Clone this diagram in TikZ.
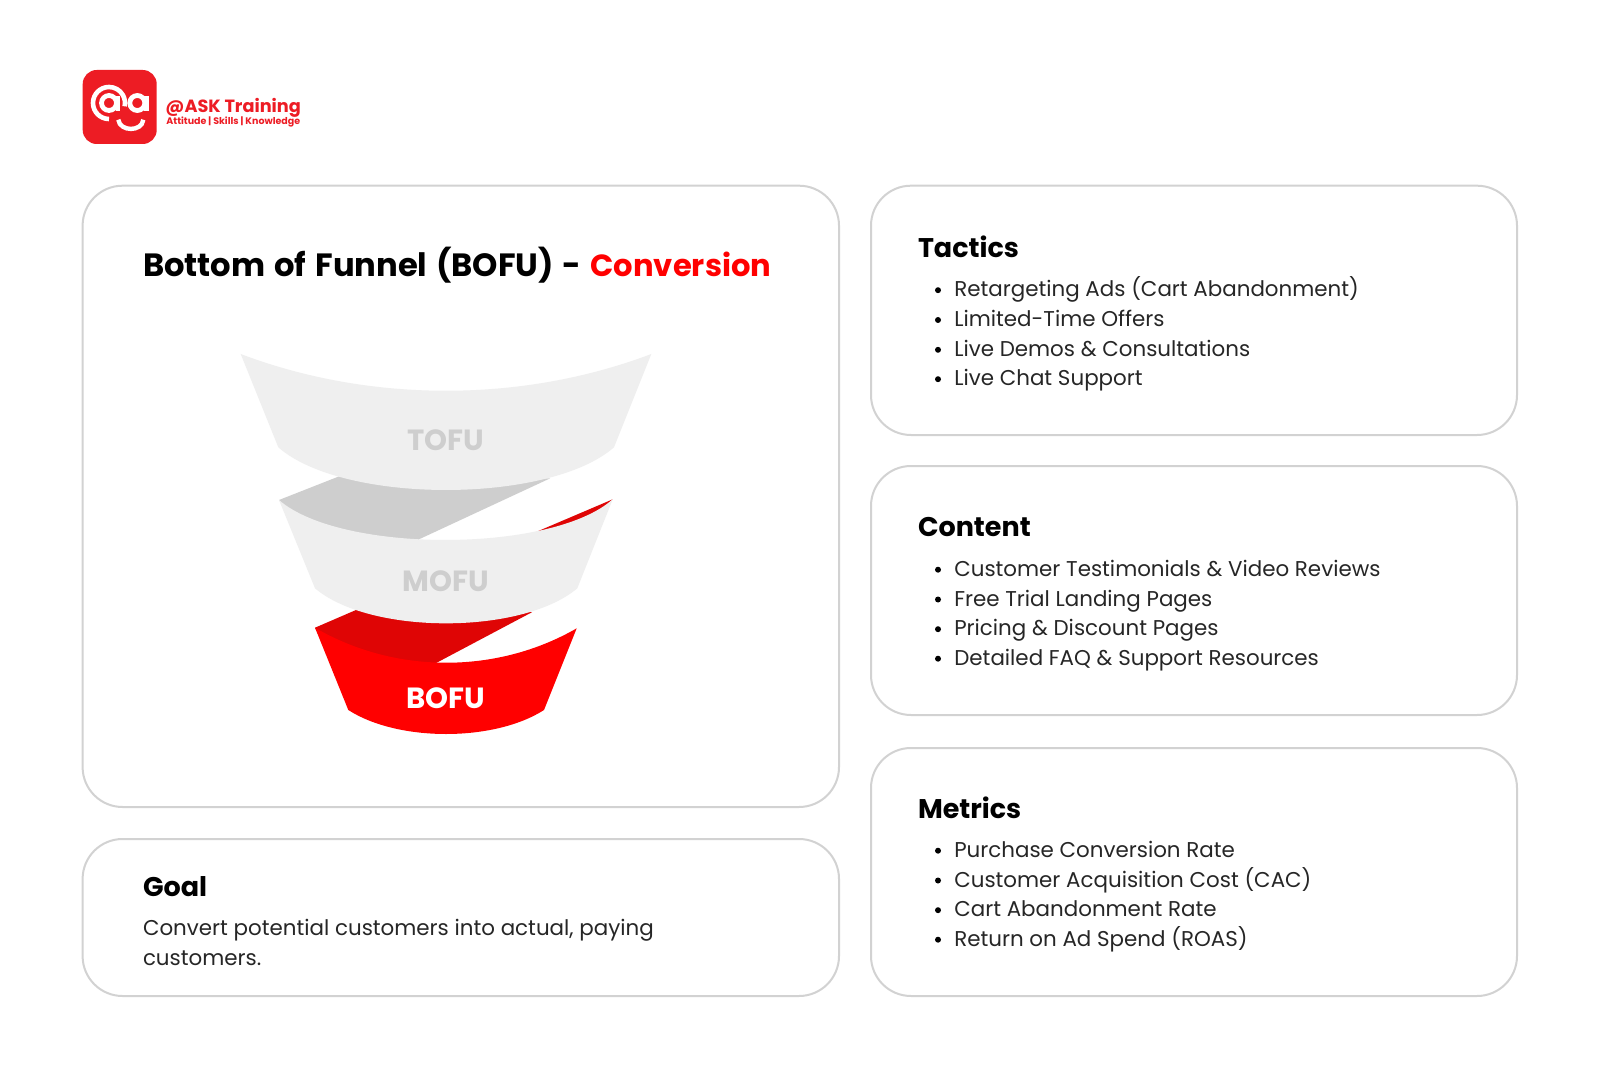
\documentclass[tikz,border=0pt]{standalone}
\usepackage{fontspec}
\setmainfont{Poppins}
\definecolor{cardline}{HTML}{D2D2D2}
\definecolor{lightface}{HTML}{EFEFEF}
\definecolor{midface}{HTML}{CECECE}
\definecolor{redface}{HTML}{FF0000}
\definecolor{darkred}{HTML}{DF0505}
\definecolor{logored}{HTML}{ED1C24}
\tikzset{
  card/.style={draw=cardline,line width=1pt,fill=white,rounded corners=20pt},
  cardtext/.style={anchor=base west,inner sep=0pt,outer sep=0pt,text=black!85,font=\fontsize{10.7}{13}\selectfont},
  heading/.style={anchor=base west,inner sep=0pt,outer sep=0pt,text=black,font=\fontsize{13.5}{16}\selectfont\bfseries},
  titletext/.style={anchor=base west,inner sep=0pt,outer sep=0pt,text=black,font=\fontsize{16.1}{18}\selectfont\bfseries},
  stage/.style={anchor=base,inner sep=0pt,outer sep=0pt,font=\fontsize{14.6}{16}\selectfont\bfseries},
  bulletdot/.style={circle,fill=black,inner sep=0pt,minimum size=3pt},
}
\newcommand{\itemrow}[3]{\node[bulletdot] at (938,#1-6.5) {}; \node[cardtext] (#2) at (954.3,#1) {#3};}
\begin{document}
\begin{tikzpicture}[x=0.5pt,y=-0.5pt]
\useasboundingbox (0,0) rectangle (1600,1080);
\fill[white] (0,0) rectangle (1600,1080);
% cards
\draw[card] (82.6,185.7) rectangle (839,807);
\draw[card] (82.6,839) rectangle (839,996);
\draw[card] (871,185.7) rectangle (1517,435);
\draw[card] (871,466) rectangle (1517,715);
\draw[card] (871,748) rectangle (1517,996);
% logo
\fill[logored] (82.7,70) [rounded corners=7pt] rectangle (156.7,144);
\begin{scope}[draw=white]
\draw[line width=2.3pt] (109,119) arc[start angle=90,end angle=372,radius=16];
\draw[line width=2.4pt] (109,103) circle[radius=7.5];
\draw[line width=2.4pt] (118,96) -- (118,111.5);
\draw[line width=2.4pt] (137.3,103) circle[radius=7.5];
\draw[line width=2.4pt] (146.5,96) -- (146.5,111.5);
\draw[line width=2.2pt] (118.3,119.7) .. controls (120,132) and (142,132) .. (143.3,119.7);
\end{scope}
\node[anchor=base west,inner sep=0pt,text=logored,font=\fontsize{8.85}{10}\selectfont\bfseries] (brand) at (165,112.7) {@ASK Training};
\node[anchor=base west,inner sep=0pt,text=logored,font=\fontsize{4.75}{5}\selectfont\bfseries] (tagline) at (166,125) {Attitude | Skills | Knowledge};
% title
\node[titletext] (title) at (143,277) {\spaceskip=0.277em Bottom of Funnel (BOFU) - \textcolor{redface}{\fontsize{15.3}{18}\selectfont Conversion}};
% funnel backs
\fill[midface] (279,500) -- (340,476) -- (550,478.4) -- (419,539.3) -- (400,560) -- (300,530) -- cycle;
\fill[darkred] (612.7,499.3) -- (536.7,531.7) -- (560,545) -- cycle;
\fill[darkred] (315,627.7) -- (356,610) -- (532,612.2) -- (436.7,662.7) -- (420,680) -- (335,665) -- cycle;
% funnel fronts
\fill[lightface] (240.7,354) .. controls (370,403) and (522,403) .. (651.3,354) -- (614,447.3) .. controls (549,504.2) and (343,504.2) .. (278.3,447.3) -- cycle;
\fill[lightface] (279,500) .. controls (340,553.4) and (552,553.4) .. (612.7,499.3) -- (577.3,588.3) .. controls (522,635) and (370,635) .. (315,588.3) -- cycle;
\fill[redface] (315,627.7) .. controls (395,674.3) and (497,674.3) .. (576.7,628.3) -- (544,710) .. controls (494,742) and (398,742) .. (348.3,710) -- cycle;
% stage labels
\node[stage,text=midface] (tofu) at (445.5,451) {TOFU};
\node[stage,text=midface] (mofu) at (445.5,591) {MOFU};
\node[stage,text=white] (bofu) at (445.5,708) {BOFU};
% headings
\node[heading] (tactics) at (918,258) {Tactics};
\node[heading] (content) at (918,536.5) {Content};
\node[heading] (metrics) at (918,818.5) {Metrics};
\node[heading] (goal) at (143,896.5) {Goal};
% items
\itemrow{296.7}{t1}{Retargeting Ads (Cart Abandonment)}
\itemrow{326.5}{t2}{Limited-Time Offers}
\itemrow{356.3}{t3}{Live Demos \& Consultations}
\itemrow{385.7}{t4}{Live Chat Support}
\itemrow{576.2}{c1}{Customer Testimonials \& Video Reviews}
\itemrow{606}{c2}{Free Trial Landing Pages}
\itemrow{635.7}{c3}{Pricing \& Discount Pages}
\itemrow{665.2}{c4}{Detailed FAQ \& Support Resources}
\itemrow{857.2}{m1}{Purchase Conversion Rate}
\itemrow{887}{m2}{Customer Acquisition Cost (CAC)}
\itemrow{916.7}{m3}{Cart Abandonment Rate}
\itemrow{946.2}{m4}{Return on Ad Spend (ROAS)}
\node[cardtext] (g1) at (143,935.2) {Convert potential customers into actual, paying};
\node[cardtext] (g2) at (143,965) {customers.};
\end{tikzpicture}
\end{document}
